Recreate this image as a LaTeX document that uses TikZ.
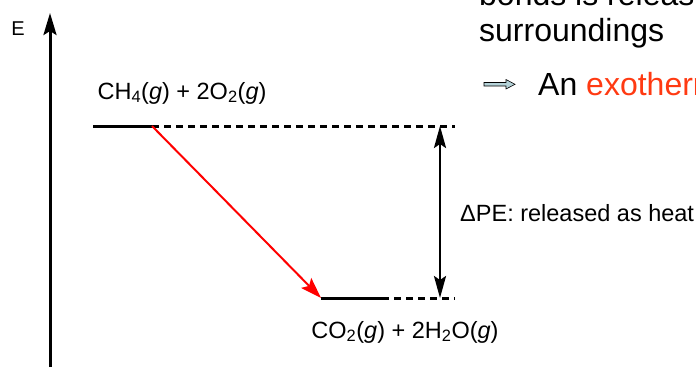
\documentclass[tikz,border=0pt]{standalone}
\usepackage{fontspec}
\setmainfont{Liberation Sans}
\usepackage{tikz}
\usetikzlibrary{arrows.meta, positioning, calc}
\usepackage{xcolor}
\definecolor{exo}{HTML}{FF3A12}
\definecolor{bullet}{HTML}{B4D2D8}
\definecolor{rxn}{HTML}{FF0000}

\begin{document}
\begin{tikzpicture}[
    x=1pt, y=-1pt,
    level/.style={line width=3pt},
    guide/.style={line width=3pt, dash pattern=on 7pt off 5pt},
    lab/.style={font=\fontsize{23.5}{28}\selectfont, inner sep=0pt},
    body/.style={font=\fontsize{32}{38}\selectfont, inner sep=0pt, anchor=base west},
    >=Stealth
]
\useasboundingbox (0,0) rectangle (696,367);
\clip (0,0) rectangle (696,367);
% Axis
\coordinate (ax0) at (50,367);
\coordinate (ax1) at (50,13);
\draw[line width=3pt, -{Stealth[length=22pt, width=13pt, inset=4pt]}] (ax0) -- (ax1);
\node[font=\fontsize{20}{24}\selectfont, inner sep=0pt] (elab) at (18,28.5) {E};
% Reactant level
\coordinate (r0) at (93,126);
\coordinate (r1) at (152,126);
\coordinate (rE) at (455,126);
\draw[level] (r0) -- (r1);
\draw[guide] (r1) -- (rE);
\node[lab] (react) at (182,93) {CH\textsubscript{4}(\textit{g}) + 2O\textsubscript{2}(\textit{g})};
% Product level
\coordinate (p0) at (321,298);
\coordinate (p1) at (382,298);
\coordinate (pE) at (455,298);
\draw[level] (p0) -- (p1);
\draw[guide] (p1) -- (pE);
\node[lab] (prod) at (405,332) {CO\textsubscript{2}(\textit{g}) + 2H\textsubscript{2}O(\textit{g})};
% Arrows
\draw[rxn, line width=2pt, -{Stealth[length=21pt, width=14pt, inset=4pt]}] (r1) -- (p0);
\coordinate (dtop) at (440,126);
\coordinate (dbot) at (440,298);
\draw[line width=2.5pt, {Stealth[length=22pt, width=12pt, inset=4pt]}-{Stealth[length=22pt, width=12pt, inset=4pt]}] (dbot) -- (dtop);
\node[lab, anchor=west] (dpe) at (460,213) {ΔPE: released as heat};
% Slide text
\node[body] (line1) at (479,5) {bonds is released to the};
\node[body] (line2) at (479,41) {surroundings};
\draw[fill=bullet, line width=0.6pt] (484,82.5) -- (506,82.5) -- (506,79.5) -- (515,84.3)
    -- (506,89) -- (506,86) -- (484,86) -- cycle;
\node[body] (line3) at (538,95) {An \textcolor{exo}{exothermic reaction}};
\end{tikzpicture}
\end{document}
